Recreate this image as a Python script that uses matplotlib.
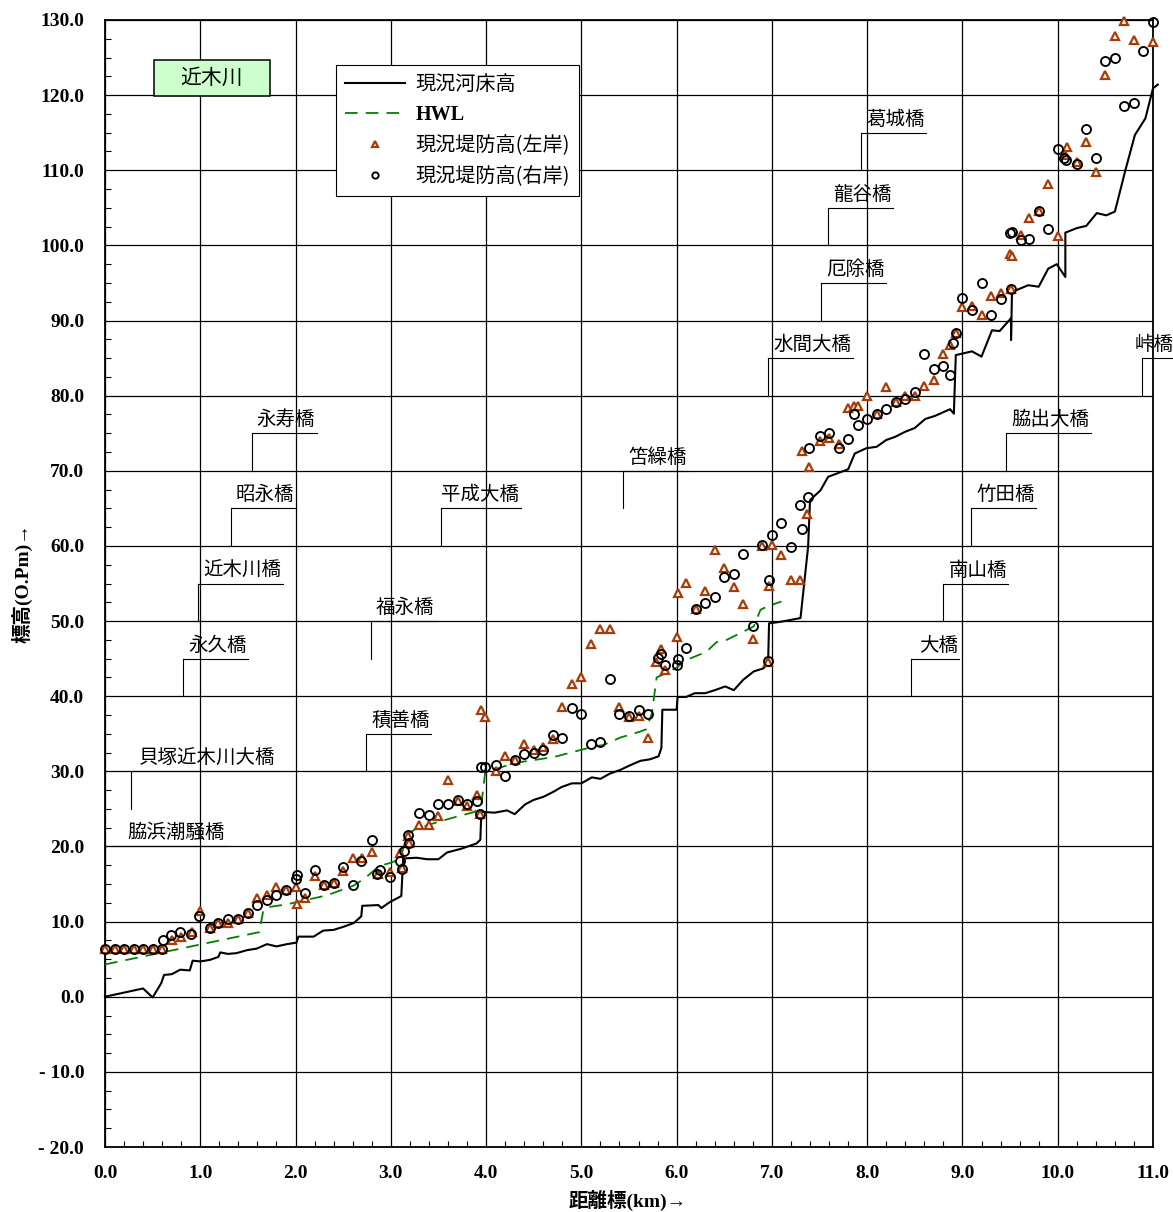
import matplotlib
matplotlib.use("Agg")
import matplotlib.pyplot as plt
from matplotlib.patches import Rectangle
from matplotlib.ticker import MultipleLocator

# ---- data ----
# 現況河床高 (bed level)
bed_km = [0.0, 0.40, 0.50, 0.59, 0.62, 0.70, 0.79, 0.89, 0.92, 1.00, 1.10, 1.19, 1.21, 1.29,
          1.38, 1.49, 1.59, 1.70, 1.80, 1.91, 2.01, 2.03, 2.19, 2.29, 2.40, 2.50, 2.61, 2.69,
          2.70, 2.87, 2.90, 2.99, 3.11, 3.13, 3.27, 3.38, 3.50, 3.59, 3.74, 3.90, 3.94, 3.95,
          4.09, 4.22, 4.30, 4.41, 4.50, 4.60, 4.71, 4.79, 4.90, 5.00, 5.11, 5.20, 5.30, 5.41,
          5.51, 5.62, 5.72, 5.81, 5.84, 5.85, 6.00, 6.01, 6.10, 6.19, 6.30, 6.40, 6.51, 6.60,
          6.70, 6.81, 6.91, 6.96, 6.97, 7.09, 7.30, 7.38, 7.40, 7.51, 7.59, 7.80, 7.87, 7.99,
          8.10, 8.20, 8.29, 8.40, 8.50, 8.61, 8.71, 8.87, 8.91, 8.93, 9.10, 9.20, 9.31, 9.39,
          9.51, 9.51, 9.52, 9.69, 9.80, 9.90, 9.99, 10.08, 10.08, 10.20, 10.30, 10.41, 10.51,
          10.60, 10.71, 10.81, 10.92, 11.00, 11.05]
bed_el = [0.0, 1.1, -0.1, 1.8, 2.9, 3.0, 3.6, 3.5, 4.8, 4.7, 4.9, 5.3, 5.9, 5.7,
          5.8, 6.2, 6.4, 7.0, 6.7, 7.0, 7.2, 8.0, 8.0, 8.8, 8.9, 9.3, 9.8, 10.7,
          12.1, 12.2, 11.8, 12.6, 13.4, 18.4, 18.5, 18.3, 18.3, 19.2, 19.7, 20.4, 20.9, 24.6,
          24.5, 24.8, 24.3, 25.6, 26.2, 26.6, 27.3, 27.9, 28.4, 28.4, 29.2, 29.0, 29.7, 30.2,
          30.8, 31.4, 31.6, 32.0, 33.1, 38.2, 38.2, 39.9, 39.9, 40.4, 40.4, 40.8, 41.3, 40.8,
          42.2, 43.3, 43.7, 44.4, 49.7, 49.9, 50.4, 59.9, 66.1, 67.4, 69.2, 70.2, 72.3, 73.0,
          73.2, 74.1, 74.5, 75.2, 75.7, 76.9, 77.3, 78.2, 77.6, 85.4, 85.9, 85.2, 88.7, 88.6,
          90.3, 87.4, 93.8, 94.7, 94.5, 96.9, 97.5, 95.8, 101.7, 102.3, 102.6, 104.3, 104.0,
          104.5, 110.0, 114.7, 116.9, 120.9, 121.4]

# HWL
hwl_km = [0.0, 1.62, 1.66, 1.70, 1.91, 2.33, 2.61, 2.72, 2.88, 2.99, 3.10, 3.17, 3.27, 3.48,
          3.70, 3.88, 3.95, 3.99, 4.08, 4.29, 4.50, 4.71, 4.92, 5.13, 5.23, 5.41, 5.62, 5.68,
          5.74, 5.79, 5.86, 6.00, 6.10, 6.31, 6.42, 6.51, 6.70, 6.81, 6.88, 6.96, 7.10]
hwl_el = [4.3, 8.6, 11.4, 11.9, 12.3, 13.5, 14.8, 15.7, 17.4, 17.8, 18.3, 21.6, 22.4, 23.2,
          24.0, 24.6, 25.6, 29.8, 30.2, 31.1, 31.5, 31.9, 32.6, 33.3, 33.5, 34.5, 35.3, 35.6,
          37.7, 42.5, 42.9, 43.8, 44.8, 45.9, 47.2, 47.4, 48.6, 49.3, 51.5, 52.0, 52.6]

# 現況堤防高(左岸)
left_km = [0.0, 0.1, 0.2, 0.3, 0.4, 0.5, 0.6, 0.70, 0.80, 0.91, 1.00, 1.10, 1.19, 1.29,
           1.40, 1.50, 1.60, 1.70, 1.79, 1.90, 2.00, 2.02, 2.10, 2.20, 2.30, 2.40, 2.50, 2.60,
           2.70, 2.80, 2.87, 2.99, 3.10, 3.12, 3.18, 3.19, 3.30, 3.40, 3.50, 3.60, 3.70, 3.80,
           3.90, 3.94, 3.95, 3.99, 4.10, 4.20, 4.30, 4.40, 4.50, 4.60, 4.70, 4.80, 4.90, 5.00,
           5.10, 5.20, 5.30, 5.40, 5.50, 5.60, 5.70, 5.78, 5.84, 5.88, 6.00, 6.01, 6.10, 6.20,
           6.30, 6.40, 6.50, 6.60, 6.70, 6.80, 6.90, 6.96, 6.97, 7.00, 7.10, 7.20, 7.30, 7.32,
           7.37, 7.39, 7.50, 7.60, 7.70, 7.80, 7.86, 7.90, 8.00, 8.10, 8.20, 8.30, 8.40, 8.50,
           8.60, 8.70, 8.80, 8.87, 8.93, 9.00, 9.10, 9.20, 9.30, 9.40, 9.50, 9.51, 9.52, 9.61,
           9.70, 9.80, 9.90, 10.00, 10.08, 10.10, 10.20, 10.30, 10.40, 10.50, 10.60, 10.70,
           10.80, 11.00]
left_el = [6.4, 6.4, 6.4, 6.4, 6.4, 6.4, 6.4, 7.5, 7.9, 8.6, 11.4, 9.1, 9.8, 9.85,
           10.4, 11.2, 13.2, 13.5, 14.6, 14.2, 14.6, 12.3, 13.1, 16.1, 14.9, 15.1, 16.8, 18.4,
           18.4, 19.2, 16.3, 16.6, 19.1, 17.1, 21.4, 20.4, 22.9, 22.9, 24.0, 28.9, 26.0, 25.4,
           26.9, 24.3, 38.1, 37.2, 30.0, 32.0, 31.5, 33.6, 32.8, 33.3, 34.3, 38.5, 41.6, 42.5,
           46.9, 48.9, 48.9, 38.5, 37.2, 37.4, 34.5, 44.5, 46.3, 43.5, 47.9, 53.7, 55.1, 51.6,
           54.0, 59.4, 57.1, 54.6, 52.3, 47.6, 60.0, 44.6, 54.7, 60.1, 58.8, 55.5, 55.5, 72.7,
           64.3, 70.5, 74.0, 74.3, 73.6, 78.4, 78.6, 78.6, 79.9, 77.5, 81.2, 79.1, 80.0, 80.0,
           81.3, 82.1, 85.6, 86.7, 88.3, 91.8, 91.9, 90.7, 93.3, 93.6, 98.8, 94.2, 98.6, 101.4,
           103.6, 104.6, 108.2, 101.3, 112.0, 113.1, 111.1, 113.7, 109.8, 122.7, 127.9, 129.9,
           127.3, 127.1]

# 現況堤防高(右岸)
right_km = [0.0, 0.1, 0.2, 0.3, 0.4, 0.5, 0.6, 0.61, 0.69, 0.79, 0.90, 0.99, 1.10, 1.19,
            1.29, 1.40, 1.50, 1.60, 1.70, 1.79, 1.90, 2.00, 2.02, 2.10, 2.20, 2.30, 2.40, 2.50,
            2.60, 2.69, 2.80, 2.85, 2.89, 2.99, 3.10, 3.12, 3.14, 3.18, 3.19, 3.30, 3.40, 3.50,
            3.60, 3.70, 3.80, 3.90, 3.94, 3.95, 3.99, 4.10, 4.20, 4.30, 4.40, 4.50, 4.60, 4.70,
            4.80, 4.90, 5.00, 5.10, 5.20, 5.30, 5.40, 5.50, 5.60, 5.70, 5.80, 5.84, 5.88, 6.00,
            6.01, 6.10, 6.20, 6.30, 6.40, 6.50, 6.60, 6.70, 6.80, 6.90, 6.96, 6.97, 7.00, 7.10,
            7.20, 7.30, 7.32, 7.38, 7.39, 7.50, 7.60, 7.70, 7.80, 7.86, 7.90, 8.00, 8.10, 8.20,
            8.30, 8.40, 8.50, 8.60, 8.70, 8.80, 8.87, 8.90, 8.93, 9.00, 9.10, 9.20, 9.30, 9.40,
            9.51, 9.50, 9.52, 9.61, 9.70, 9.80, 9.90, 10.00, 10.07, 10.09, 10.20, 10.30, 10.40,
            10.50, 10.60, 10.70, 10.80, 10.90, 11.00]
right_el = [6.4, 6.4, 6.4, 6.4, 6.4, 6.4, 6.4, 7.5, 8.2, 8.6, 8.3, 10.7, 9.1, 9.85,
            10.4, 10.4, 11.2, 12.2, 12.9, 13.5, 14.2, 15.7, 16.2, 13.8, 16.9, 14.9, 15.1, 17.3,
            14.9, 18.0, 20.9, 16.3, 16.9, 15.9, 18.1, 17.0, 19.4, 21.5, 20.5, 24.5, 24.2, 25.7,
            25.6, 26.2, 25.7, 26.0, 24.3, 30.6, 30.6, 30.9, 29.4, 31.5, 32.3, 32.4, 32.8, 34.8,
            34.5, 38.4, 37.6, 33.6, 33.9, 42.3, 37.6, 37.4, 38.2, 37.6, 45.1, 45.6, 44.1, 44.2,
            45.0, 46.4, 51.6, 52.4, 53.2, 55.9, 56.3, 58.9, 49.3, 60.1, 44.7, 55.4, 61.5, 63.0,
            59.9, 65.4, 62.2, 66.5, 73.0, 74.6, 75.0, 73.1, 74.2, 77.6, 76.1, 76.9, 77.5, 78.2,
            79.1, 79.6, 80.5, 85.5, 83.5, 84.0, 82.7, 87.0, 88.3, 93.0, 91.4, 95.0, 90.7, 92.8,
            94.2, 101.6, 101.8, 100.7, 100.8, 104.6, 102.2, 112.8, 111.6, 111.3, 110.9, 115.5, 111.6,
            124.5, 124.9, 118.6, 118.9, 125.9, 129.7]

# bridges: name, km position, elevation of the label underline
bridge_names = ["脇浜潮騒橋", "貝塚近木川大橋", "永久橋", "近木川橋", "昭永橋", "永寿橋",
                "積善橋", "福永橋", "平成大橋", "笘繰橋", "水間大橋", "厄除橋", "龍谷橋",
                "葛城橋", "大橋", "南山橋", "竹田橋", "脇出大橋", "峠橋"]
bridge_km = [0.0, 0.27, 0.82, 0.98, 1.32, 1.54, 2.74, 2.79, 3.53, 5.44, 6.96, 7.52, 7.59,
             7.94, 8.46, 8.80, 9.09, 9.46, 10.88]
bridge_lv = [20, 30, 45, 55, 65, 75, 35, 50, 65, 70, 85, 95, 105, 115, 45, 55, 65, 75, 85]

xtick_vals = list(range(0, 12))
ytick_vals = list(range(-20, 131, 10))
ytick_labels = [("- %.1f" % -v) if v < 0 else ("%.1f" % v) for v in ytick_vals]

# ---- drawing ----
JP = ["Noto Sans CJK JP", "DejaVu Sans"]
NUM = ["Liberation Serif", "Noto Sans CJK JP"]
plt.rcParams["font.family"] = JP

W, H = 1173, 1212
fig = plt.figure(figsize=(W / 100, H / 100), dpi=100)
ax = fig.add_axes([105 / W, 1 - 1147 / H, 1048 / W, 1127 / H])
ax.set_xlim(0, 11)
ax.set_ylim(-20, 130)

ax.set_xticks(xtick_vals)
ax.set_xticklabels(["%.1f" % v for v in xtick_vals], fontfamily=NUM, fontweight="bold", fontsize=14)
ax.set_yticks(ytick_vals)
ax.set_yticklabels(ytick_labels, fontfamily=NUM, fontweight="bold", fontsize=14)
ax.xaxis.set_minor_locator(MultipleLocator(0.2))
ax.yaxis.set_minor_locator(MultipleLocator(2.5))
ax.tick_params(which="major", length=0, pad=13)
ax.tick_params(axis="y", which="major", pad=15)
ax.tick_params(which="minor", direction="in", length=4, width=0.8, color="black")
ax.grid(True, which="major", color="black", linewidth=0.9)
ax.set_axisbelow(True)
for sp in ax.spines.values():
    sp.set_linewidth(1.3)

ax.plot(bed_km, bed_el, color="black", lw=1.5, label="現況河床高", zorder=3, clip_on=False)
ax.plot(hwl_km, hwl_el, color="#008000", lw=1.3, dashes=(7, 4.5), label="HWL", zorder=3)
ax.plot(left_km, left_el, ls="none", marker="^", ms=6, mfc="white", mec="#A83C08", mew=1.6,
        label="現況堤防高(左岸)", zorder=4, clip_on=False)
ax.plot(right_km, right_el, ls="none", marker="o", ms=6.5, mfc="none", mec="black", mew=1.35,
        label="現況堤防高(右岸)", zorder=5, clip_on=False)

# bridge labels
px_km = 11 / 1048
label_dx = {"脇浜潮騒橋": 22, "平成大橋": 0, "峠橋": -7, "貝塚近木川大橋": 8, "大橋": 8}
for name, km, lv in zip(bridge_names, bridge_km, bridge_lv):
    dx = label_dx.get(name, 5)
    ax.plot([km, km], [lv, lv - 5], color="black", lw=0.8, zorder=2)
    ax.plot([km, km + (dx + 20 * len(name)) * px_km], [lv, lv], color="black", lw=0.8,
            zorder=2, clip_on=False)
    ax.text(km + dx * px_km, lv + 0.4, name, fontsize=14, ha="left", va="bottom",
            fontfamily=JP, zorder=6)

# river name box
ax.add_patch(Rectangle((0.51, 119.9), 1.22, 4.8, facecolor="#CCFFCC", edgecolor="black",
                       lw=1.1, zorder=6))
ax.text(1.12, 122.3, "近木川", fontsize=15, ha="center", va="center", zorder=7)

leg = ax.legend(loc="upper left", bbox_to_anchor=(231 / 1048, 1 - 45 / 1127), borderaxespad=0,
                fontsize=14.5, frameon=True, fancybox=False, edgecolor="black", framealpha=1,
                handlelength=3.0, handletextpad=0.5, labelspacing=0.5, borderpad=0.45,
                markerscale=0.7)
leg.get_frame().set_linewidth(0.8)
leg.get_texts()[1].set_fontfamily(NUM)
leg.get_texts()[1].set_fontweight("bold")

fig.text(628 / W, 1 - 1200 / H, "距離標(km)→", ha="center", va="center", fontsize=14,
         fontfamily=NUM, fontweight="bold")
fig.text(22 / W, 1 - 583 / H, "標高(O.Pm)→", ha="center", va="center", rotation=90,
         fontsize=14, fontfamily=NUM, fontweight="bold")

fig.savefig("out.png", dpi=100)
